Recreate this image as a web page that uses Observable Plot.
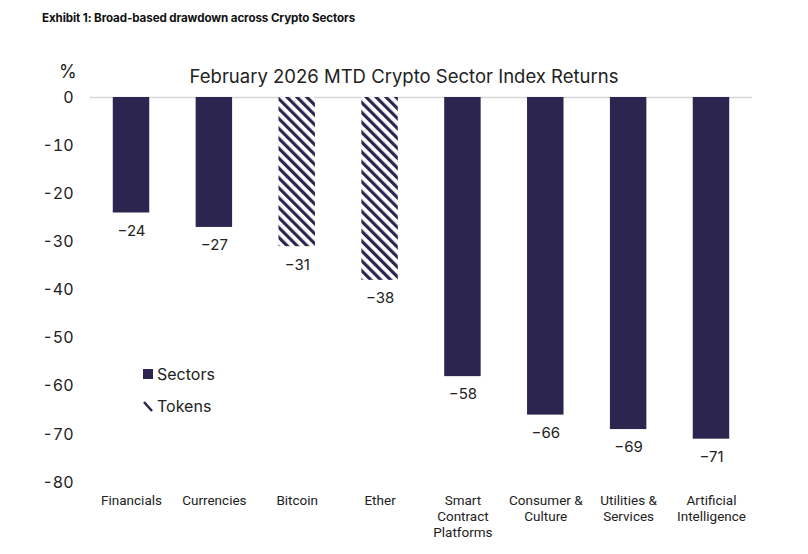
<!DOCTYPE html>
<html><head><meta charset="utf-8">
<script src="https://cdn.jsdelivr.net/npm/d3@7"></script>
<script src="https://cdn.jsdelivr.net/npm/@observablehq/plot@0.6"></script>
<style>
body{margin:0;background:#fff;width:808px;height:554px;overflow:hidden;position:relative;font-family:Inter,"Noto Sans",sans-serif;}
#exhibit{position:absolute;left:42px;top:11px;font-size:11.6px;font-weight:700;color:#111;letter-spacing:-0.1px;}
#head{height:40px;}
#ctitle{position:absolute;left:0;width:808px;top:65px;text-align:center;font-size:18.5px;color:#222;}
#pct{position:absolute;left:59px;top:61px;font-size:18px;color:#222;}
#legend{position:absolute;left:143px;top:358px;font-size:16px;color:#222;}
#legend div{display:flex;align-items:center;height:32px;}
#legend svg{margin-right:4px;}
</style></head>
<body>
<div id="head"><div id="exhibit">Exhibit 1: Broad-based drawdown across Crypto Sectors</div></div>
<div id="chart"></div>
<div id="ctitle">February 2026 MTD Crypto Sector Index Returns</div>
<div id="pct">%</div>
<div id="legend">
  <div><svg width="10" height="10"><rect width="10" height="10" fill="#2c2550"/></svg>Sectors</div>
  <div><svg width="10" height="12"><line x1="1" y1="2" x2="9" y2="11" stroke="#2c2550" stroke-width="2.5"/></svg>Tokens</div>
</div>
<script>
const categories = ["Financials","Currencies","Bitcoin","Ether","Smart Contract Platforms","Consumer & Culture","Utilities & Services","Artificial Intelligence"];
const tickLabels = ["Financials","Currencies","Bitcoin","Ether","Smart\nContract\nPlatforms","Consumer &\nCulture","Utilities &\nServices","Artificial\nIntelligence"];
const values = [-24,-27,-31,-38,-58,-66,-69,-71];
const kinds = ["Sectors","Sectors","Tokens","Tokens","Sectors","Sectors","Sectors","Sectors"];
const yTicks = [0,-10,-20,-30,-40,-50,-60,-70,-80];

const navy = "#2c2550";
const data = categories.map((c,i)=>({cat:c, value:values[i], kind:kinds[i]}));
const labelOf = new Map(categories.map((c,i)=>[c, tickLabels[i]]));

const defs = () => {
  const ns = "http://www.w3.org/2000/svg";
  const d = document.createElementNS(ns,"defs");
  const p = document.createElementNS(ns,"pattern");
  p.setAttribute("id","hatch");
  p.setAttribute("patternUnits","userSpaceOnUse");
  p.setAttribute("width","7");
  p.setAttribute("height","7");
  p.setAttribute("patternTransform","rotate(-45)");
  const bg = document.createElementNS(ns,"rect");
  bg.setAttribute("width","7"); bg.setAttribute("height","7"); bg.setAttribute("fill","#fff");
  const r = document.createElementNS(ns,"rect");
  r.setAttribute("width","3.2"); r.setAttribute("height","7"); r.setAttribute("fill",navy);
  p.appendChild(bg); p.appendChild(r); d.appendChild(p);
  return d;
};

const chart = Plot.plot({
  width: 808,
  height: 514,
  marginTop: 57,
  marginBottom: 72,
  marginLeft: 90,
  marginRight: 56,
  style: {fontFamily: "Inter, 'Noto Sans', sans-serif", color: "#222", background: "#fff"},
  x: {domain: categories, paddingInner: 0.56, paddingOuter: 0.275, round: false, label: null},
  y: {domain: [-80, 0], label: null},
  marks: [
    defs,
    Plot.ruleY([0], {stroke: "#d6d6d6", strokeWidth: 1.5}),
    Plot.barY(data.filter(d=>d.kind==="Sectors"), {x: "cat", y: "value", fill: navy}),
    Plot.barY(data.filter(d=>d.kind==="Tokens"), {x: "cat", y: "value", fill: "url(#hatch)"}),
    Plot.text(data, {x: "cat", y: "value", text: d => "\u2212" + Math.abs(d.value), dy: 18, fontSize: 15, fill: "#222"}),
    Plot.axisY({ticks: yTicks, tickSize: 0, tickPadding: 17, fontSize: 16, tickFormat: d => d === 0 ? "0" : "-" + Math.abs(d)}),
    Plot.axisX({tickSize: 0, tickPadding: 11, fontSize: 13.5, fontFamily: "Roboto, sans-serif", tickFormat: d => labelOf.get(d), lineHeight: 1.18})
  ]
});
document.getElementById("chart").appendChild(chart);
</script>
</body></html>
